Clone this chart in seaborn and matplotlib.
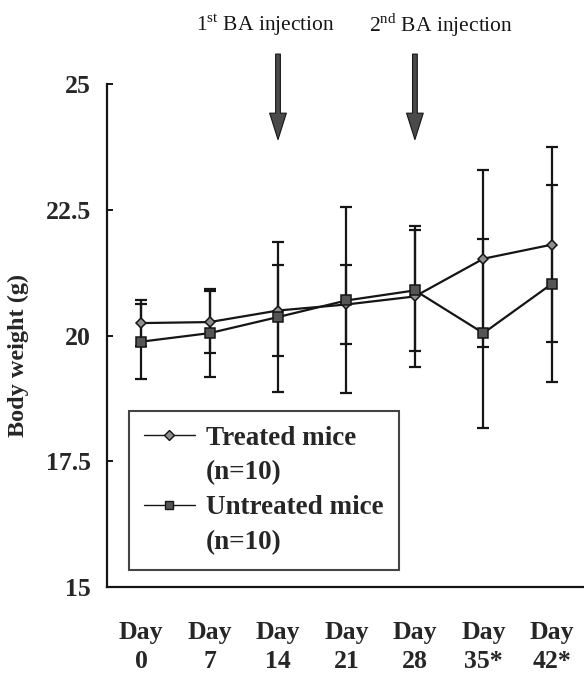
import matplotlib
matplotlib.use("Agg")
import matplotlib.pyplot as plt
from matplotlib.lines import Line2D
import numpy as np
import pandas as pd
import seaborn as sns

# Body weight (g) of mice, mean and SD per time point
days = ["Day\n0", "Day\n7", "Day\n14", "Day\n21", "Day\n28", "Day\n35*", "Day\n42*"]
treated_mean = [20.25, 20.27, 20.50, 20.62, 20.78, 21.53, 21.81]
treated_sd = [0.46, 0.61, 0.90, 0.79, 1.41, 1.76, 1.94]
untreated_mean = [19.88, 20.05, 20.37, 20.70, 20.90, 20.05, 21.03]
untreated_sd = [0.75, 0.88, 1.50, 1.85, 1.21, 1.88, 1.96]
y_ticks = [15, 17.5, 20, 22.5, 25]
y_tick_labels = ["15", "17.5", "20", "22.5", "25"]
injection_days = ["Day\n14", "Day\n28"]
injection_labels = [r"1$^{\mathrm{st}}$ BA injection", r"2$^{\mathrm{nd}}$ BA injection"]

sns.set_theme(style="white")
plt.rcParams["font.family"] = ["Liberation Serif", "DejaVu Serif"]
plt.rcParams["mathtext.fontset"] = "custom"
plt.rcParams["mathtext.rm"] = "Liberation Serif"

pos = np.arange(len(days))
df = pd.DataFrame({
    "pos": np.concatenate([pos, pos]),
    "weight": treated_mean + untreated_mean,
    "sd": treated_sd + untreated_sd,
    "group": ["Treated"] * len(days) + ["Untreated"] * len(days),
})

fig = plt.figure(figsize=(5.84, 6.74), dpi=100)
ax = fig.add_axes([0.183, 0.129, 0.817, 0.746])

ink = "#151515"
styles = {
    "Treated": dict(marker="D", markersize=5.4, markerfacecolor="#8e8e8e"),
    "Untreated": dict(marker="s", markersize=7.0, markerfacecolor="#555555"),
}

for grp in ["Treated", "Untreated"]:
    sub = df[df["group"] == grp]
    ax.errorbar(sub["pos"], sub["weight"], yerr=sub["sd"], fmt="none",
                ecolor=ink, elinewidth=1.6, capsize=4.5, capthick=1.6, zorder=2)
    sns.lineplot(data=sub, x="pos", y="weight", ax=ax, color=ink,
                 linewidth=1.6, markeredgecolor=ink, markeredgewidth=1.1,
                 zorder=3, **styles[grp])

ax.set_xlim(-0.5, 6.47)
ax.set_ylim(15, 25)
ax.set_yticks(y_ticks)
ax.set_yticklabels(y_tick_labels, fontsize=18.5, fontweight="bold")
ax.set_xticks(pos)
ax.set_xticklabels(days, fontsize=18.5, fontweight="bold", linespacing=1.35)
ax.set_xticks(pos[:-1] + 0.5, minor=True)
ax.tick_params(axis="x", which="major", length=0, pad=24.5)
ax.tick_params(axis="x", which="minor", direction="in", length=5, width=1.4, color=ink)
ax.tick_params(axis="y", which="major", direction="in", length=4.5, width=1.4,
               color=ink, pad=11.5, left=True)
ax.set_xlabel("")
ax.set_ylabel("Body weight (g)", fontsize=17.5, fontweight="bold")
ax.yaxis.set_label_coords(-0.163, 0.46)

for side in ["top", "right"]:
    ax.spines[side].set_visible(False)
for side in ["left", "bottom"]:
    ax.spines[side].set_color(ink)
    ax.spines[side].set_linewidth(1.6)

# Injection markers
for day, label, tx in zip(injection_days, injection_labels, [0.454, 0.755]):
    x = days.index(day)
    ax.annotate("", xy=(x, 23.9), xytext=(x, 25.6), annotation_clip=False,
                arrowprops=dict(arrowstyle="simple,head_length=0.95,head_width=0.6,tail_width=0.17",
                                mutation_scale=20, facecolor="#4a4a4a",
                                edgecolor=ink, linewidth=0.8, shrinkA=0, shrinkB=0))
    fig.text(tx, 0.963, label, fontsize=15.5, ha="center", va="center", color=ink)

blank = Line2D([], [], linestyle="none")
h_t = Line2D([], [], color=ink, linewidth=1.0, marker="D", markersize=5.0,
             markerfacecolor="#8e8e8e", markeredgecolor=ink)
h_u = Line2D([], [], color=ink, linewidth=1.0, marker="s", markersize=6.0,
             markerfacecolor="#555555", markeredgecolor=ink)
leg = ax.legend([h_t, blank, h_u, blank],
                ["Treated mice", "(n=10)", "Untreated mice", "(n=10)"],
                loc="lower left", bbox_to_anchor=(0.046, 0.034),
                prop={"family": "Liberation Serif", "weight": "bold", "size": 19.5},
                frameon=True, fancybox=False, edgecolor=ink,
                handlelength=1.9, handletextpad=0.4, labelspacing=0.36,
                borderpad=0.55, borderaxespad=0)
leg.get_frame().set_linewidth(1.5)

fig.savefig("out.png", dpi=100)
